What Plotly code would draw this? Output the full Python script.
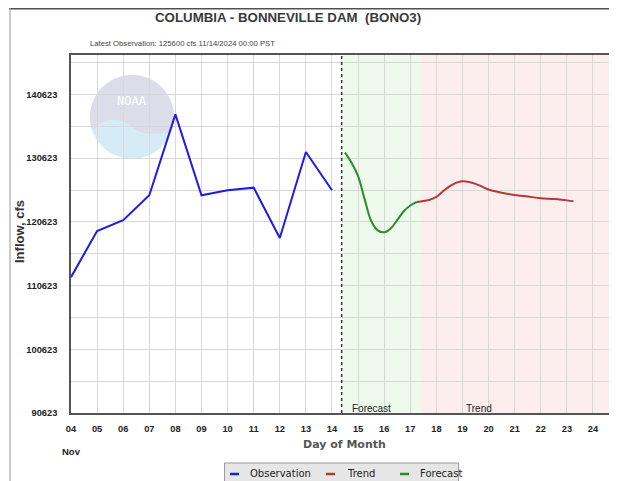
import numpy as np
import plotly.graph_objects as go

# ---------------- data ----------------
obs_day = [4, 5, 6, 7, 8, 9, 10, 11, 12, 13, 14]
obs_cfs = [111950, 119200, 120900, 124800, 137500, 124800, 125600, 126000, 118100, 131600, 125600]

fcst_day = [14.5, 14.75, 15.0, 15.25, 15.5, 15.75, 16.0, 16.25, 16.5, 16.75, 17.0, 17.25]
fcst_cfs = [131500, 129900, 127800, 124200, 120800, 119300, 119000, 119600, 120900, 122300, 123200, 123750]

trend_day = [17.25, 17.5, 17.75, 18.0, 18.25, 18.5, 18.75, 19.0, 19.25, 19.5, 19.75, 20.0,
             20.5, 21.0, 21.5, 22.0, 22.5, 23.0, 23.25]
trend_cfs = [123750, 123900, 124100, 124550, 125400, 126200, 126750, 127000, 126900, 126600,
             126150, 125700, 125200, 124850, 124600, 124350, 124200, 124000, 123850]

x_tickvals = list(range(4, 26))
x_ticktext = ["04", "05", "06", "07", "08", "09", "10", "11", "12", "13", "14", "15",
              "16", "17", "18", "19", "20", "21", "22", "23", "24", "25"]
y_tickvals = [90623, 100623, 110623, 120623, 130623, 140623]
y_ticktext = ["90623", "100623", "110623", "120623", "130623", "140623"]

forecast_start = 14.37
trend_start = 17.38
x_end = 24.92
y_min, y_max = 90623, 146823

series_names = ["Observation", "Trend", "Forecast"]
series_colors = ["#1e1ee0", "#b33a3a", "#2e8a2e"]

# ---------------- layout helpers (reference pixel -> paper) ----------------
OFF = 8                      # page body margin offset
W, H = 617 - OFF, 481 - OFF
ML, MR, MT, MB = 71 - OFF, 0, 55 - OFF, 68
PW, PH = W - ML - MR, H - MT - MB


def px(x):
    return (x - OFF - ML) / PW


def py(y):
    return (H - MB - (y - OFF)) / PH


FONT = "Liberation Sans, Arial, sans-serif"

fig = go.Figure()
fig.add_trace(go.Scatter(x=obs_day, y=obs_cfs, mode="lines", name=series_names[0],
                         line=dict(color=series_colors[0], width=2)))
fig.add_trace(go.Scatter(x=trend_day, y=trend_cfs, mode="lines", name=series_names[1],
                         line=dict(color=series_colors[1], width=2, shape="spline")))
fig.add_trace(go.Scatter(x=fcst_day, y=fcst_cfs, mode="lines", name=series_names[2],
                         line=dict(color=series_colors[2], width=2, shape="spline")))

shapes = []
# shaded forecast / trend regions
shapes.append(dict(type="rect", xref="x", yref="paper", x0=forecast_start, x1=trend_start,
                   y0=0, y1=1, fillcolor="#eefbec", line_width=0, layer="below"))
shapes.append(dict(type="rect", xref="x", yref="paper", x0=trend_start, x1=x_end + 1,
                   y0=0, y1=1, fillcolor="#fdeeee", line_width=0, layer="below"))
# dotted divider
shapes.append(dict(type="line", xref="x", yref="paper", x0=forecast_start, x1=forecast_start,
                   y0=0, y1=1, line=dict(color="#333333", width=1.5, dash="dot")))

# NOAA watermark (decorative)
cx, cy, r = 132, 117, 42
shapes.append(dict(type="circle", xref="paper", yref="paper", x0=px(cx - r), x1=px(cx + r),
                   y0=py(cy + r), y1=py(cy - r), fillcolor="#d5ecf7", line_width=0, layer="below"))
ang = np.linspace(np.deg2rad(200), np.deg2rad(-20), 40)
pts = [(cx + r * np.cos(a), cy - r * np.sin(a)) for a in ang]
path = "M " + " L ".join(f"{px(a):.4f},{py(b):.4f}" for a, b in pts)
path += f" Q {px(cx + 10):.4f},{py(cy + 22):.4f} {px(cx - 2):.4f},{py(cy + 8):.4f}"
path += f" Q {px(cx - 25):.4f},{py(cy - 5):.4f} {px(cx - r * 0.94):.4f},{py(cy + 14):.4f} Z"
shapes.append(dict(type="path", xref="paper", yref="paper", path=path,
                   fillcolor="#dcdde9", line_width=0, layer="below"))

# page frame lines
shapes.append(dict(type="line", xref="paper", yref="paper", x0=px(9), x1=px(630), y0=py(8.5), y1=py(8.5),
                   line=dict(color="#505050", width=2)))
shapes.append(dict(type="line", xref="paper", yref="paper", x0=px(10), x1=px(10), y0=py(8), y1=py(500),
                   line=dict(color="#a8a8a8", width=1.2)))

# manual legend box
shapes.append(dict(type="rect", xref="paper", yref="paper", x0=px(224.5), x1=px(458.5), y0=py(500),
                   y1=py(463), fillcolor="#e6e6e6", line=dict(color="#9a9a9a", width=1)))
leg_line_x = [230, 326, 400]
leg_text_x = [248, 345, 418]
annotations = []
for name, col, lx, tx in zip(series_names, series_colors, leg_line_x, leg_text_x):
    shapes.append(dict(type="line", xref="paper", yref="paper", x0=px(lx), x1=px(lx + 9),
                       y0=py(474), y1=py(474), line=dict(color=col, width=2.5)))
    annotations.append(dict(text=name, xref="paper", yref="paper", x=px(tx), y=py(473),
                            xanchor="left", yanchor="middle", showarrow=False,
                            font=dict(family="DejaVu Sans, sans-serif", size=10, color="#222222")))

annotations += [
    dict(text="COLUMBIA - BONNEVILLE DAM  (BONO3)", xref="paper", yref="paper",
         x=px(288), y=py(18), xanchor="center", yanchor="middle", showarrow=False,
         font=dict(family=FONT, size=13.3, color="#3a3a3a", weight="bold")),
    dict(text="Latest Observation: 125600 cfs 11/14/2024 00:00 PST", xref="paper", yref="paper",
         x=px(88), y=py(44), xanchor="left", yanchor="middle", showarrow=False,
         font=dict(family=FONT, size=7.7, color="#444444")),
    dict(text="<b>Nov</b>", xref="paper", yref="paper", x=px(71), y=py(451), xanchor="center",
         yanchor="middle", showarrow=False, font=dict(family=FONT, size=9.5, color="#222222")),
    dict(text="Forecast", xref="x", yref="paper", x=15.53, y=py(408), xanchor="center",
         yanchor="middle", showarrow=False, font=dict(family=FONT, size=10, color="#222222")),
    dict(text="Trend", xref="x", yref="paper", x=19.63, y=py(408), xanchor="center",
         yanchor="middle", showarrow=False, font=dict(family=FONT, size=10, color="#222222")),
    dict(text="<b>Inflow, cfs</b>", xref="paper", yref="paper", x=px(20), y=py(232), xanchor="center",
         yanchor="middle", showarrow=False, textangle=-90,
         font=dict(family=FONT, size=13, color="#333333")),
    dict(text="<b>Day of Month</b>", xref="paper", yref="paper", x=px(344), y=py(445), xanchor="center",
         yanchor="middle", showarrow=False,
         font=dict(family="DejaVu Sans, sans-serif", size=11, color="#555555")),
    dict(text="NOAA", xref="paper", yref="paper", x=px(132), y=py(101), xanchor="center",
         yanchor="middle", showarrow=False, font=dict(family="DejaVu Sans Mono, monospace", size=12,
                                                       color="#ffffff")),
]

fig.update_layout(
    width=W, height=H,
    margin=dict(l=ML, r=MR, t=MT, b=MB, pad=0),
    paper_bgcolor="white", plot_bgcolor="white",
    showlegend=False,
    shapes=shapes,
    annotations=annotations,
)

fig.update_xaxes(range=[4, x_end], tickvals=x_tickvals, ticktext=x_ticktext,
                 showgrid=True, gridcolor="#d8d8d8", gridwidth=1,
                 showline=True, linecolor="#555555", linewidth=1.5, mirror=True,
                 ticks="", ticklabelstandoff=6, zeroline=False,
                 tickfont=dict(family=FONT, size=9.3, color="#222222", weight="bold"))
fig.update_yaxes(range=[y_min, y_max], tickvals=y_tickvals, ticktext=y_ticktext,
                 showgrid=True, gridcolor="#d8d8d8", gridwidth=1,
                 minor=dict(dtick=5000, tick0=90623, showgrid=True, gridcolor="#d8d8d8", gridwidth=1),
                 showline=True, linecolor="#555555", linewidth=1.5,
                 ticks="", ticklabelstandoff=10, zeroline=False,
                 tickfont=dict(family=FONT, size=9.3, color="#222222", weight="bold"))

fig.write_html("out.html")
